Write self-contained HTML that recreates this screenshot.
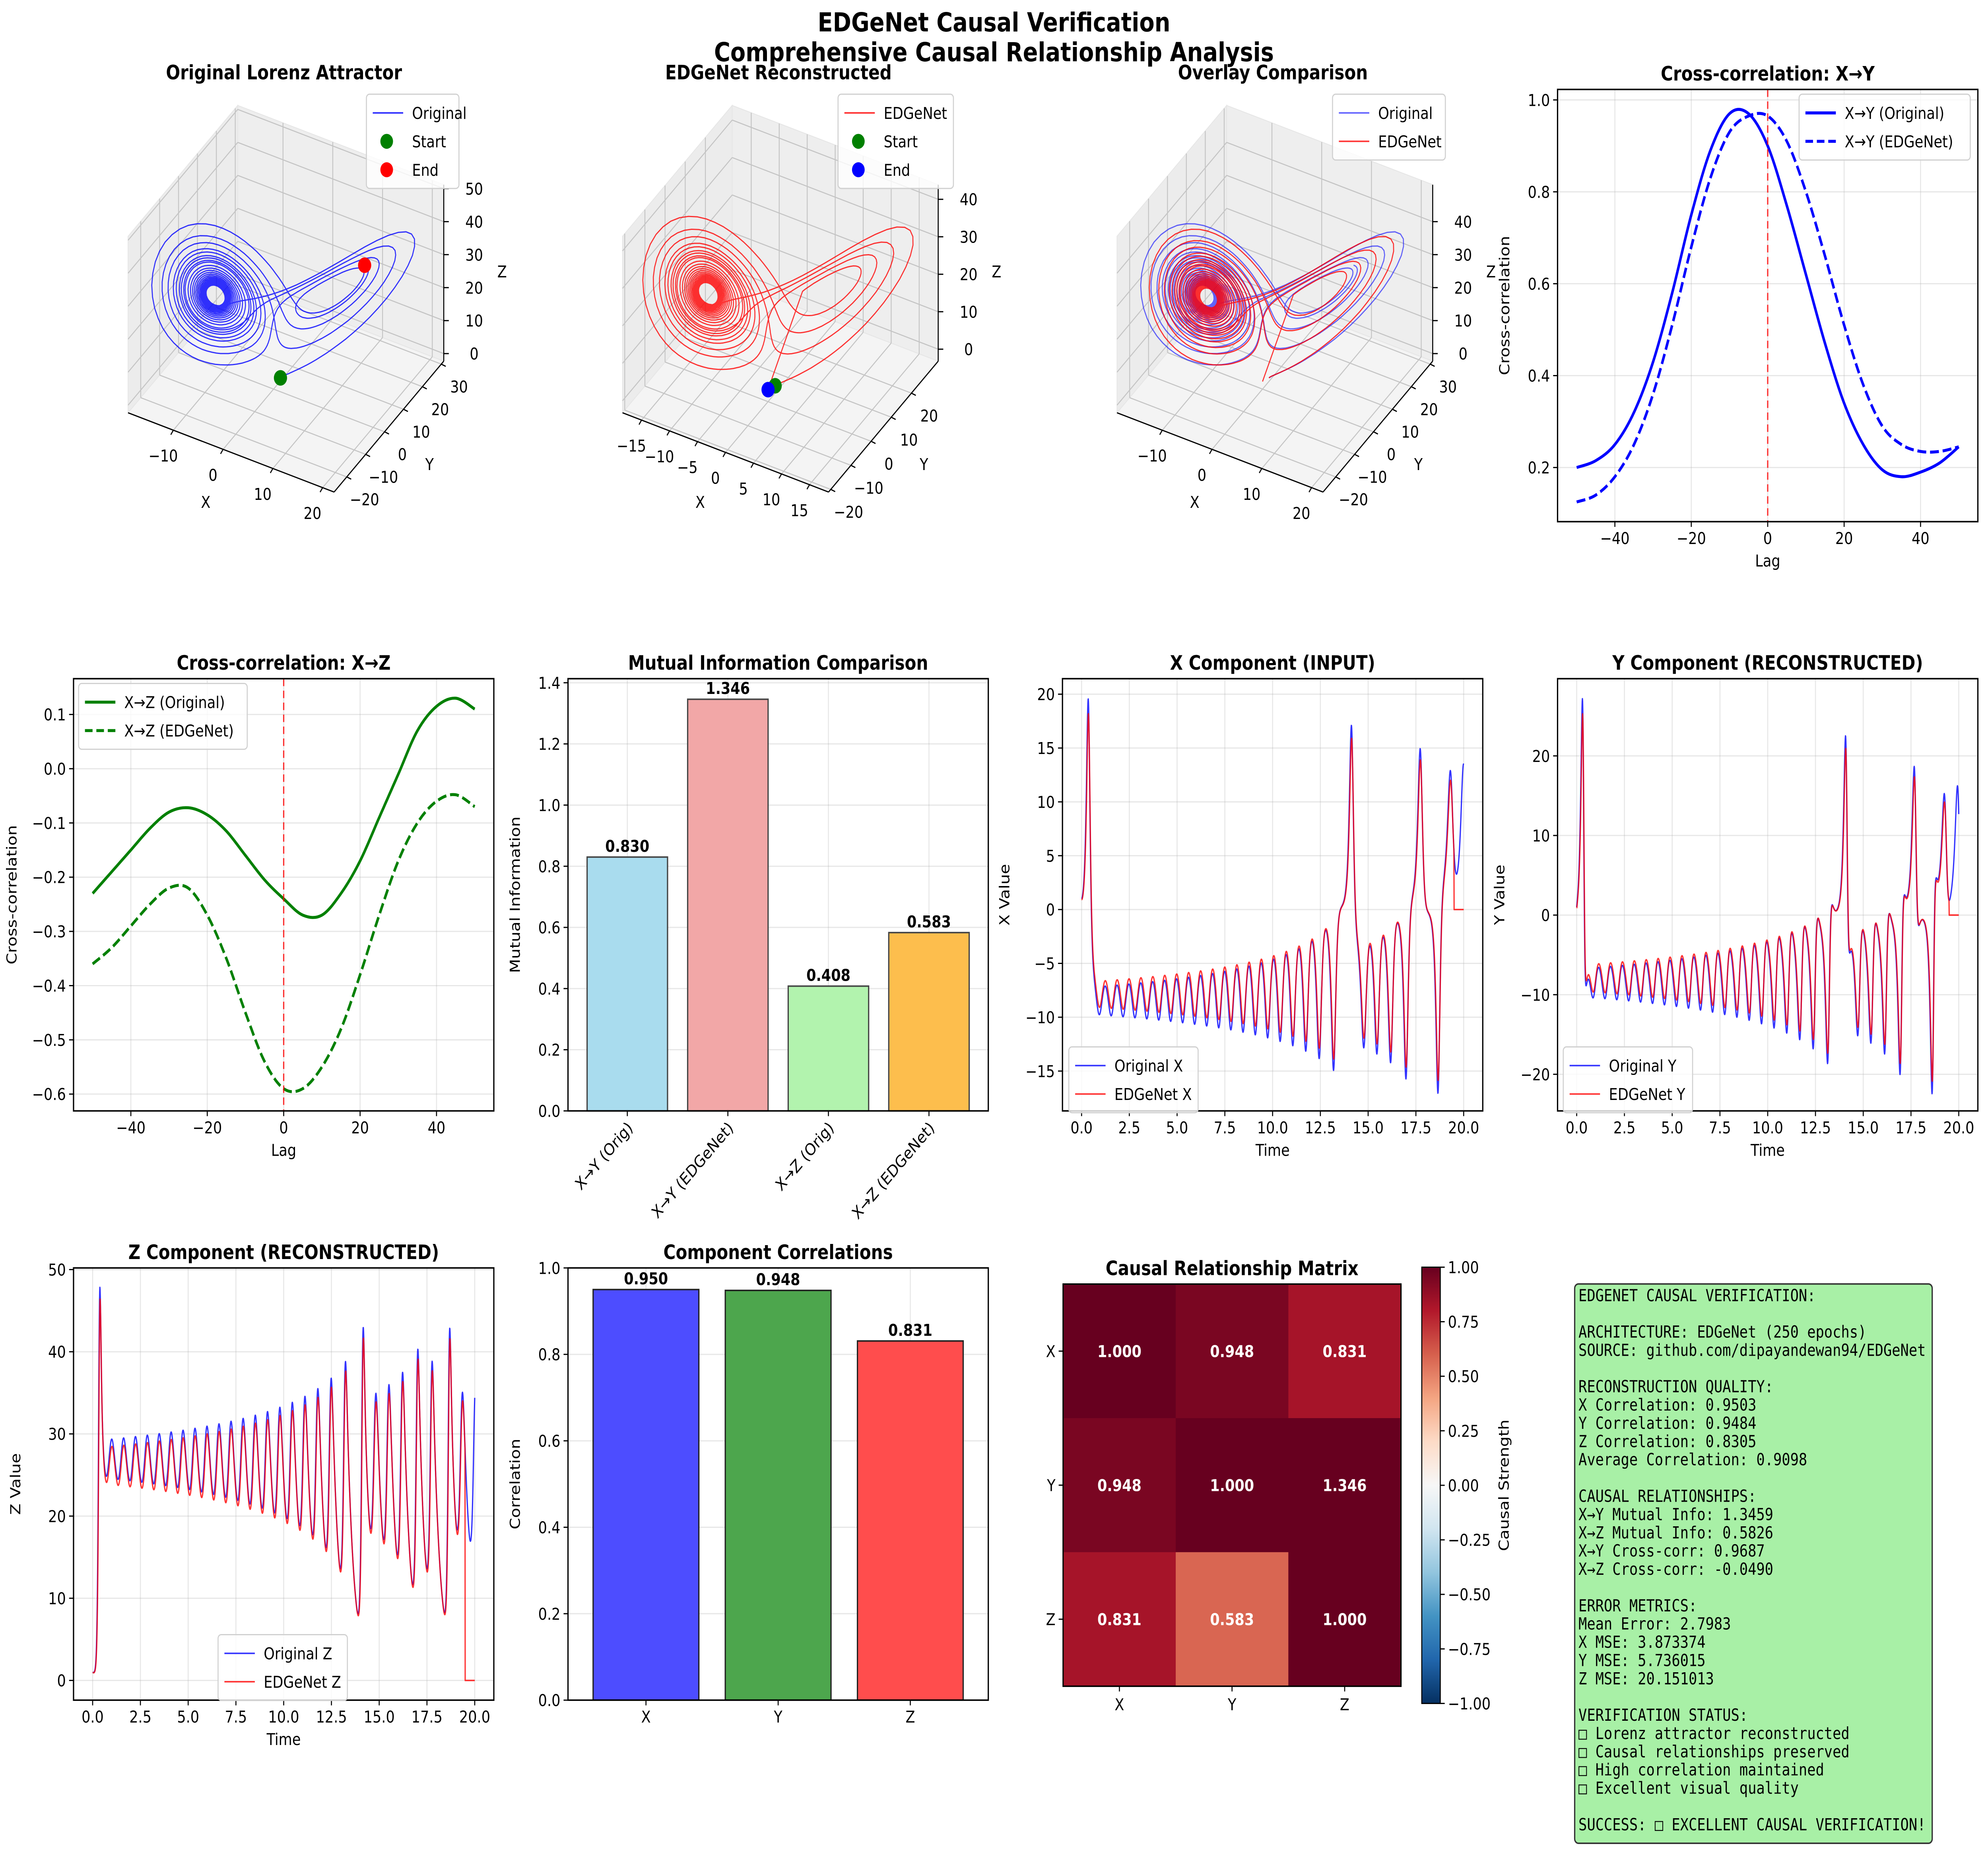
<!DOCTYPE html>
<html><head><meta charset="utf-8"><title>EDGeNet Causal Verification</title>
<style>html,body{margin:0;padding:0;background:#fff;width:100%;height:100%;overflow:hidden}#wrap{width:100vw;height:100vh}svg{display:block;width:100%;height:100%}</style>
</head><body>
<div id="wrap">
<svg id="fig" viewBox="0 0 1568 1237" preserveAspectRatio="none" xmlns="http://www.w3.org/2000/svg">
<rect x="0" y="0" width="1568" height="1237" fill="#fff"/>
</svg>
</div>
<script>
// ---------- data ----------
const lorenzInit = [1, 1, 1];
const lorenzParams = [10, 28, 8/3];
const lorenzDt = 0.01;
const lorenzSteps = 2000;
const xcorrLags = [-50,-45,-40,-35,-30,-25,-20,-15,-10,-5,0,5,10,15,20,25,30,35,40,45,50];
const xyOrig = [0.20,0.215,0.25,0.32,0.43,0.58,0.75,0.89,0.97,0.97,0.90,0.77,0.62,0.47,0.34,0.25,0.195,0.18,0.19,0.21,0.245];
const xyEdg  = [0.125,0.14,0.18,0.25,0.36,0.51,0.68,0.83,0.93,0.965,0.965,0.91,0.80,0.66,0.51,0.38,0.29,0.25,0.235,0.235,0.245];
const xzOrig = [-0.23,-0.19,-0.15,-0.11,-0.08,-0.072,-0.085,-0.115,-0.16,-0.205,-0.24,-0.27,-0.27,-0.23,-0.17,-0.09,-0.01,0.07,0.115,0.13,0.11];
const xzEdg  = [-0.36,-0.33,-0.29,-0.25,-0.22,-0.22,-0.27,-0.35,-0.45,-0.54,-0.59,-0.59,-0.55,-0.48,-0.38,-0.27,-0.17,-0.10,-0.06,-0.048,-0.07];
const miCats = ['X→Y (Orig)','X→Y (EDGeNet)','X→Z (Orig)','X→Z (EDGeNet)'];
const miVals = [0.830, 1.346, 0.408, 0.583];
const miColors = ['#a9dcee','#f2a7a7','#b2f3ae','#fdbe4d'];
const corrCats = ['X','Y','Z'];
const corrVals = [0.950, 0.948, 0.831];
const corrColors = ['#4d4dff','#4da64d','#ff4d4d'];
const matLabels = ['X','Y','Z'];
const matVals = [[1.000,0.948,0.831],[0.948,1.000,1.346],[0.831,0.583,1.000]];
const edgScale = [0.93, 0.93, 0.97];
const edgCutT = [19.5, 19.5, 19.5];

// ---------- helpers ----------
const NS='http://www.w3.org/2000/svg';
const svg=document.getElementById('fig');
const FONT='"DejaVu Sans","Liberation Sans",sans-serif';
function el(tag, attrs, name){
  const e=document.createElementNS(NS,tag);
  for(const k in attrs) e.setAttribute(k, attrs[k]);
  
  
  svg.appendChild(e); return e;
}
function T(x,y,s,name,o){
  o=o||{};
  const e=el('text',{x:x,y:y,'font-size':o.fs||11,'text-anchor':o.a||'middle','font-weight':o.b?'bold':'normal','font-family':o.f||FONT,fill:o.c||'#000'},name);
  if(o.rot!==undefined) e.setAttribute('transform','rotate('+o.rot+' '+x+' '+y+')');
  e.textContent=s; return e;
}
function L(x1,y1,x2,y2,st,w,name,extra){
  const a={x1:x1,y1:y1,x2:x2,y2:y2,stroke:st,'stroke-width':w};
  if(extra) for(const k in extra) a[k]=extra[k];
  return el('line',a,name);
}
function fmt(v){return (v<0?'−':'')+Math.abs(v).toString();}
function fmtF(v,d){return (v<0?'−':'')+Math.abs(v).toFixed(d);}
function smoothPath(p){
  let d='M'+p[0][0].toFixed(2)+','+p[0][1].toFixed(2);
  for(let i=0;i<p.length-1;i++){
    const p0=p[i-1]||p[i],p1=p[i],p2=p[i+1],p3=p[i+2]||p[i+1];
    const c1=[p1[0]+(p2[0]-p0[0])/6,p1[1]+(p2[1]-p0[1])/6];
    const c2=[p2[0]-(p3[0]-p1[0])/6,p2[1]-(p3[1]-p1[1])/6];
    d+=' C'+c1[0].toFixed(2)+','+c1[1].toFixed(2)+' '+c2[0].toFixed(2)+','+c2[1].toFixed(2)+' '+p2[0].toFixed(2)+','+p2[1].toFixed(2);
  }
  return d;
}
function axes(b,xr,yr,o){
  const sx=v=>b.x0+(v-xr[0])/(xr[1]-xr[0])*(b.x1-b.x0);
  const sy=v=>b.y1-(v-yr[0])/(yr[1]-yr[0])*(b.y1-b.y0);
  el('rect',{x:b.x0,y:b.y0,width:b.x1-b.x0,height:b.y1-b.y0,fill:'#fff'},o.id+'-plot-area');
  if(o.grid){
    (o.xt||[]).forEach(v=>L(sx(v),b.y0,sx(v),b.y1,'#b0b0b0',0.8,o.id+'-x-gridline',{'stroke-opacity':0.3}));
    o.yt.forEach(v=>L(b.x0,sy(v),b.x1,sy(v),'#b0b0b0',0.8,o.id+'-y-gridline',{'stroke-opacity':0.3}));
  }
  (o.xt||[]).forEach((v,i)=>{L(sx(v),b.y1,sx(v),b.y1+3.5,'#000',0.8,o.id+'-x-tick');
    if(o.xl) T(sx(v),b.y1+15,o.xl[i],o.id+'-x-tick-label');});
  o.yt.forEach((v,i)=>{L(b.x0-3.5,sy(v),b.x0,sy(v),'#000',0.8,o.id+'-y-tick');
    T(b.x0-6,sy(v)+4,o.yl[i],o.id+'-y-tick-label',{a:'end'});});
  T((b.x0+b.x1)/2,b.y0-6,o.title,o.id+'-title',{fs:13.2,b:true});
  if(o.xlab) T((b.x0+b.x1)/2,b.y1+30,o.xlab,o.id+'-x-axis-title');
  if(o.ylab) T(b.x0-o.yoff,(b.y0+b.y1)/2,o.ylab,o.id+'-y-axis-title',{rot:-90});
  return {sx,sy};
}
function frame(b,id){el('rect',{x:b.x0,y:b.y0,width:b.x1-b.x0,height:b.y1-b.y0,fill:'none',stroke:'#000','stroke-width':1},id+'-frame');}
function legend(x,y,w,items,id){
  const h=items.length*19+6;
  el('rect',{x:x,y:y,width:w,height:h,rx:2.5,fill:'#fff','fill-opacity':0.8,stroke:'#d0d0d0','stroke-width':0.8},id+'-legend');
  items.forEach((it,i)=>{
    const cy=y+12.5+i*19;
    if(it.t==='dot') el('circle',{cx:x+16,cy:cy,r:5,fill:it.c},id+'-legend-marker');
    else L(x+5,cy,x+29,cy,it.c,it.w||1,id+'-legend-line',it.dash?{'stroke-dasharray':'6,3','stroke-opacity':it.op||1}:{'stroke-opacity':it.op||1});
    T(x+36,cy+4,it.l,id+'-legend-entry',{a:'start'});
  });
}

// ---------- Lorenz simulation ----------
function deriv(s){const [sg,r,bt]=lorenzParams;return [sg*(s[1]-s[0]),s[0]*(r-s[2])-s[1],s[0]*s[1]-bt*s[2]];}
const LX=[],LY=[],LZ=[],LT=[];
(function(){let s=lorenzInit.slice();const h=lorenzDt;
  for(let i=0;i<=lorenzSteps;i++){LX.push(s[0]);LY.push(s[1]);LZ.push(s[2]);LT.push(i*h);
    const k1=deriv(s),k2=deriv(s.map((v,j)=>v+h/2*k1[j])),k3=deriv(s.map((v,j)=>v+h/2*k2[j])),k4=deriv(s.map((v,j)=>v+h*k3[j]));
    s=s.map((v,j)=>v+h/6*(k1[j]+2*k2[j]+2*k3[j]+k4[j]));}})();
function edg(arr,c){return arr.map((v,i)=>LT[i]>=edgCutT[c]?0:edgScale[c]*arr[Math.max(0,i-1)]);}
const EX=edg(LX,0),EY=edg(LY,1),EZ=edg(LZ,2);

// ---------- suptitle ----------
T(784,21,'EDGeNet Causal Verification','suptitle',{fs:17.5,b:true});
T(784,41,'Comprehensive Causal Relationship Analysis','subtitle',{fs:17.5,b:true});

// ---------- 3D panels ----------
function panel3d(off,xr,yr,zr,xt,yt,zt,title,id,series,marks,leg){
  const O=[101+off,276];
  const P=(u,v,w)=>[O[0]+u*162.5+v*86.5,O[1]+u*53-v*87.5-w*118];
  const U=x=>(x-xr[0])/(xr[1]-xr[0]),V=y=>(y-yr[0])/(yr[1]-yr[0]),W=z=>(z-zr[0])/(zr[1]-zr[0]);
  const poly=(pts,fill,name)=>el('polygon',{points:pts.map(p=>p.join(',')).join(' '),fill:fill,stroke:'#e6e6e6','stroke-width':0.6},name);
  poly([P(0,0,0),P(0,1,0),P(0,1,1),P(0,0,1)],'#ececec',id+'-left-pane');
  poly([P(0,1,0),P(1,1,0),P(1,1,1),P(0,1,1)],'#eeeeee',id+'-back-pane');
  poly([P(0,0,0),P(1,0,0),P(1,1,0),P(0,1,0)],'#f4f4f4',id+'-floor-pane');
  const g=(a,b,n)=>L(a[0],a[1],b[0],b[1],'#c4c4c4',0.7,n);
  xt.forEach(x=>{const u=U(x);g(P(u,0,0),P(u,1,0),id+'-grid');g(P(u,1,0),P(u,1,1),id+'-grid');});
  yt.forEach(y=>{const v=V(y);g(P(0,v,0),P(1,v,0),id+'-grid');g(P(0,v,0),P(0,v,1),id+'-grid');});
  zt.forEach(z=>{const w=W(z);g(P(0,0,w),P(0,1,w),id+'-grid');g(P(0,1,w),P(1,1,w),id+'-grid');});
  const ax=(a,b,n)=>L(a[0],a[1],b[0],b[1],'#000',0.8,n);
  ax(P(0,0,0),P(1,0,0),id+'-x-axis');ax(P(1,0,0),P(1,1,0),id+'-y-axis');ax(P(1,1,0),P(1,1,1),id+'-z-axis');
  xt.forEach(x=>{const p=P(U(x),0,0);L(p[0],p[1],p[0]-2,p[1]+3,'#000',0.8,id+'-x-tick');T(p[0]-8,p[1]+21,fmt(x),id+'-x-tick-label');});
  yt.forEach(y=>{const p=P(1,V(y),0);L(p[0],p[1],p[0]+3.5,p[1]+1.5,'#000',0.8,id+'-y-tick');T(p[0]+14,p[1]+19,fmt(y),id+'-y-tick-label');});
  zt.forEach(z=>{const p=P(1,1,W(z));L(p[0],p[1],p[0]+4,p[1],'#000',0.8,id+'-z-tick');T(p[0]+24,p[1]+4,fmt(z),id+'-z-tick-label');});
  let p=P(0.5,0,0);T(p[0]-20,p[1]+37,'X',id+'-x-axis-title');
  p=P(1,0.5,0);T(p[0]+32,p[1]+29,'Y',id+'-y-axis-title');
  p=P(1,1,0.5);T(p[0]+46,p[1]+3,'Z',id+'-z-axis-title');
  series.forEach(s=>{
    let d='';for(let i=0;i<s.x.length;i++){const q=P(U(s.x[i]),V(s.y[i]),W(s.z[i]));d+=(i?'L':'M')+q[0].toFixed(1)+','+q[1].toFixed(1);}
    el('path',{d:d,fill:'none',stroke:s.c,'stroke-width':0.8,'stroke-opacity':s.op,'stroke-linejoin':'round'},id+'-'+s.n);
  });
  marks.forEach(m=>{const q=P(U(m.x),V(m.y),W(m.z));el('circle',{cx:q[0],cy:q[1],r:5.2,fill:m.c},id+'-'+m.n);});
  T(224+off,53,title,id+'-title',{fs:13.2,b:true});
  legend(leg.x,63,leg.w,leg.items,id);
}
const N=LX.length-1;
panel3d(0,[-19.1,22.3],[-26.7,31.3],[-2.3,51.2],[-10,0,10,20],[-20,-10,0,10,20,30],[0,10,20,30,40,50],'Original Lorenz Attractor','lorenz-original',
  [{x:LX,y:LY,z:LZ,c:'#0000ff',op:0.8,n:'original-trajectory'}],
  [{x:LX[0],y:LY[0],z:LZ[0],c:'#008000',n:'start-marker'},{x:LX[N],y:LY[N],z:LZ[N],c:'#ff0000',n:'end-marker'}],
  {x:289,w:73,items:[{l:'Original',c:'#0000ff',op:0.8},{l:'Start',c:'#008000',t:'dot'},{l:'End',c:'#ff0000',t:'dot'}]});
panel3d(390,[-18.4,18.4],[-21.1,33.3],[-3.2,43.9],[-15,-10,-5,0,5,10,15],[-20,-10,0,10,20],[0,10,20,30,40],'EDGeNet Reconstructed','lorenz-edgenet',
  [{x:EX,y:EY,z:EZ,c:'#ff0000',op:0.8,n:'edgenet-trajectory'}],
  [{x:EX[0],y:EY[0],z:EZ[0],c:'#008000',n:'start-marker'},{x:EX[N],y:EY[N],z:EZ[N],c:'#0000ff',n:'end-marker'}],
  {x:661,w:91,items:[{l:'EDGeNet',c:'#ff0000',op:0.8},{l:'Start',c:'#008000',t:'dot'},{l:'End',c:'#0000ff',t:'dot'}]});
panel3d(780,[-19.1,22.3],[-26.7,31.3],[-2.3,51.2],[-10,0,10,20],[-20,-10,0,10,20,30],[0,10,20,30,40],'Overlay Comparison','lorenz-overlay',
  [{x:LX,y:LY,z:LZ,c:'#0000ff',op:0.6,n:'original-trajectory'},{x:EX,y:EY,z:EZ,c:'#ff0000',op:0.8,n:'edgenet-trajectory'}],[],
  {x:1051,w:89,items:[{l:'Original',c:'#0000ff',op:0.6},{l:'EDGeNet',c:'#ff0000',op:0.8}]});

// ---------- layout ----------
const C=[58,448,838,1228.5],W=331.5,R=[59.8,453.8,847.8],H=289;
const box=(c,r)=>({x0:C[c],x1:C[c]+W,y0:R[r],y1:R[r]+H});

// Cross-correlation X→Y
(function(){const b=box(3,0);const xt=[-40,-20,0,20,40],yt=[0.2,0.4,0.6,0.8,1.0];
  const a=axes(b,[-55,55],[0.0822,1.0228],{id:'xcorr-xy',grid:true,xt:xt,xl:xt.map(fmt),yt:yt,yl:yt.map(v=>v.toFixed(1)),title:'Cross-correlation: X→Y',xlab:'Lag',ylab:'Cross-correlation',yoff:38});
  el('path',{d:smoothPath(xcorrLags.map((l,i)=>[a.sx(l),a.sy(xyOrig[i])])),fill:'none',stroke:'#0000ff','stroke-width':2},'xy-original-line');
  el('path',{d:smoothPath(xcorrLags.map((l,i)=>[a.sx(l),a.sy(xyEdg[i])])),fill:'none',stroke:'#0000ff','stroke-width':2,'stroke-dasharray':'7,3'},'xy-edgenet-line');
  L(a.sx(0),b.y0,a.sx(0),b.y1,'#ff0000',1,'zero-lag-line',{'stroke-dasharray':'5,3','stroke-opacity':0.8});
  frame(b,'xcorr-xy');
  legend(1419,63,135,[{l:'X→Y (Original)',c:'#0000ff',w:2},{l:'X→Y (EDGeNet)',c:'#0000ff',w:2,dash:true}],'xcorr-xy');})();

// Cross-correlation X→Z
(function(){const b=box(0,1);const xt=[-40,-20,0,20,40],yt=[-0.6,-0.5,-0.4,-0.3,-0.2,-0.1,0.0,0.1];
  const a=axes(b,[-55,55],[-0.631,0.166],{id:'xcorr-xz',grid:true,xt:xt,xl:xt.map(fmt),yt:yt,yl:yt.map(v=>fmtF(Math.abs(v)<1e-9?0:v,1)),title:'Cross-correlation: X→Z',xlab:'Lag',ylab:'Cross-correlation',yoff:45});
  el('path',{d:smoothPath(xcorrLags.map((l,i)=>[a.sx(l),a.sy(xzOrig[i])])),fill:'none',stroke:'#008000','stroke-width':2},'xz-original-line');
  el('path',{d:smoothPath(xcorrLags.map((l,i)=>[a.sx(l),a.sy(xzEdg[i])])),fill:'none',stroke:'#008000','stroke-width':2,'stroke-dasharray':'7,3'},'xz-edgenet-line');
  L(a.sx(0),b.y0,a.sx(0),b.y1,'#ff0000',1,'zero-lag-line',{'stroke-dasharray':'5,3','stroke-opacity':0.8});
  frame(b,'xcorr-xz');
  legend(62,457,133,[{l:'X→Z (Original)',c:'#008000',w:2},{l:'X→Z (EDGeNet)',c:'#008000',w:2,dash:true}],'xcorr-xz');})();

// Mutual information
(function(){const b=box(1,1);const yt=[0,0.2,0.4,0.6,0.8,1.0,1.2,1.4];const xt=miCats.map((c,i)=>i);
  const a=axes(b,[-0.59,3.59],[0,1.4133],{id:'mutual-info',grid:true,xt:xt,yt:yt,yl:yt.map(v=>v.toFixed(1)),title:'Mutual Information Comparison',ylab:'Mutual Information',yoff:38});
  miVals.forEach((v,i)=>{const x0=a.sx(i-0.4),x1=a.sx(i+0.4);
    el('rect',{x:x0,y:a.sy(v),width:x1-x0,height:a.sy(0)-a.sy(v),fill:miColors[i],stroke:'#444','stroke-width':1},'mi-bar-'+i);
    T(a.sx(i),a.sy(v)-3.5,v.toFixed(3),'mi-bar-value',{b:true});
    T(a.sx(i)+5,b.y1+12,miCats[i],'mi-x-tick-label',{a:'end',rot:-45});});
  frame(b,'mutual-info');})();

// Time series
function tsPanel(c,r,id,title,yr,yt,orig,ed,ylab,lname,lx,ly){
  const b=box(c,r);const xt=[0,2.5,5,7.5,10,12.5,15,17.5,20];
  const a=axes(b,[-1,21],yr,{id:id,grid:true,xt:xt,xl:xt.map(v=>v.toFixed(1)),yt:yt,yl:yt.map(fmt),title:title,xlab:'Time',ylab:ylab,yoff:42});
  const line=(arr,col,n)=>{let d='';arr.forEach((v,i)=>{d+=(i?'L':'M')+a.sx(LT[i]).toFixed(2)+','+a.sy(v).toFixed(2);});
    el('path',{d:d,fill:'none',stroke:col,'stroke-width':1,'stroke-opacity':0.8,'stroke-linejoin':'round'},n);};
  line(orig,'#0000ff',id+'-original-line');line(ed,'#ff0000',id+'-edgenet-line');
  frame(b,id);
  legend(lx,ly,lname[2],[{l:lname[0],c:'#0000ff',op:0.8},{l:lname[1],c:'#ff0000',op:0.8}],id);
}
tsPanel(2,1,'x-component','X Component (INPUT)',[-18.7,21.44],[-15,-10,-5,0,5,10,15,20],LX,EX,'X Value',['Original X','EDGeNet X',102],843,700);
tsPanel(3,1,'y-component','Y Component (RECONSTRUCTED)',[-24.6,29.7],[-20,-10,0,10,20],LY,EY,'Y Value',['Original Y','EDGeNet Y',102],1233,700);
tsPanel(0,2,'z-component','Z Component (RECONSTRUCTED)',[-2.4,50.2],[0,10,20,30,40,50],LZ,EZ,'Z Value',['Original Z','EDGeNet Z',102],172,1093);

// Component correlations
(function(){const b=box(1,2);const yt=[0,0.2,0.4,0.6,0.8,1.0];const xt=corrCats.map((c,i)=>i);
  const a=axes(b,[-0.59,2.59],[0,1.0],{id:'component-corr',grid:true,xt:xt,xl:corrCats,yt:yt,yl:yt.map(v=>v.toFixed(1)),title:'Component Correlations',ylab:'Correlation',yoff:38});
  corrVals.forEach((v,i)=>{const x0=a.sx(i-0.4),x1=a.sx(i+0.4);
    el('rect',{x:x0,y:a.sy(v),width:x1-x0,height:a.sy(0)-a.sy(v),fill:corrColors[i],stroke:'#222','stroke-width':1},'corr-bar-'+corrCats[i]);
    T(a.sx(i),a.sy(v)-3.5,v.toFixed(3),'corr-bar-value',{b:true});});
  frame(b,'component-corr');})();

// Causal matrix heatmap
const rdbuStops=['#053061','#2166ac','#4393c3','#92c5de','#d1e5f0','#f7f7f7','#fddbc7','#f4a582','#d6604d','#b2182b','#67001f'];
function cmap(v){v=Math.max(-1,Math.min(1,v));const t=(v+1)/2*10;const i=Math.min(9,Math.floor(t)),f=t-i;
  const h=s=>[1,3,5].map(k=>parseInt(s.substr(k,2),16));const A=h(rdbuStops[i]),B=h(rdbuStops[i+1]);
  return 'rgb('+A.map((q,k)=>Math.round(q+(B[k]-q)*f)).join(',')+')';}
(function(){const b={x0:838.5,x1:1105,y0:858.6,y1:1127.5};const cw=(b.x1-b.x0)/3,ch=(b.y1-b.y0)/3;
  T((b.x0+b.x1)/2,b.y0-6,'Causal Relationship Matrix','causal-matrix-title',{fs:13.2,b:true});
  matVals.forEach((row,r)=>row.forEach((v,c)=>{
    el('rect',{x:b.x0+c*cw,y:b.y0+r*ch,width:cw+0.3,height:ch+0.3,fill:cmap(v)},'matrix-cell-'+matLabels[r]+matLabels[c]);
    T(b.x0+(c+0.5)*cw,b.y0+(r+0.5)*ch+4,v.toFixed(3),'matrix-cell-value',{b:true,c:'#fff'});}));
  matLabels.forEach((l,i)=>{const x=b.x0+(i+0.5)*cw,y=b.y0+(i+0.5)*ch;
    L(x,b.y1,x,b.y1+3.5,'#000',0.8,'matrix-x-tick');T(x,b.y1+16,l,'matrix-x-tick-label');
    L(b.x0-3.5,y,b.x0,y,'#000',0.8,'matrix-y-tick');T(b.x0-6,y+4,l,'matrix-y-tick-label',{a:'end'});});
  frame(b,'causal-matrix');
  const cb={x0:1121.4,x1:1136,y0:847.3,y1:1139};
  const gd=el('defs',{},'colorbar-defs');
  const lg=document.createElementNS(NS,'linearGradient');lg.setAttribute('id','cbgrad');lg.setAttribute('x1','0');lg.setAttribute('y1','1');lg.setAttribute('x2','0');lg.setAttribute('y2','0');
  rdbuStops.forEach((s,i)=>{const st=document.createElementNS(NS,'stop');st.setAttribute('offset',(i/10).toString());st.setAttribute('stop-color',s);lg.appendChild(st);});
  gd.appendChild(lg);
  el('rect',{x:cb.x0,y:cb.y0,width:cb.x1-cb.x0,height:cb.y1-cb.y0,fill:'url(#cbgrad)',stroke:'#000','stroke-width':0.8},'colorbar');
  const cbt=[-1,-0.75,-0.5,-0.25,0,0.25,0.5,0.75,1];
  cbt.forEach(v=>{const y=cb.y1-(v+1)/2*(cb.y1-cb.y0);L(cb.x1,y,cb.x1+3.5,y,'#000',0.8,'colorbar-tick');T(cb.x1+6,y+4,fmtF(v,2),'colorbar-tick-label',{a:'start'});});
  T(1190,(cb.y0+cb.y1)/2,'Causal Strength','colorbar-title',{rot:-90});
})();

// Summary text box
const summaryLines=['EDGENET CAUSAL VERIFICATION:','','ARCHITECTURE: EDGeNet (250 epochs)','SOURCE: github.com/dipayandewan94/EDGeNet','','RECONSTRUCTION QUALITY:','X Correlation: 0.9503','Y Correlation: 0.9484','Z Correlation: 0.8305','Average Correlation: 0.9098','','CAUSAL RELATIONSHIPS:','X→Y Mutual Info: 1.3459','X→Z Mutual Info: 0.5826','X→Y Cross-corr: 0.9687','X→Z Cross-corr: -0.0490','','ERROR METRICS:','Mean Error: 2.7983','X MSE: 3.873374','Y MSE: 5.736015','Z MSE: 20.151013','','VERIFICATION STATUS:','□ Lorenz attractor reconstructed','□ Causal relationships preserved','□ High correlation maintained','□ Excellent visual quality','','SUCCESS: □ EXCELLENT CAUSAL VERIFICATION!'];
el('rect',{x:1242,y:858.5,width:282,height:374,rx:3,fill:'#a8f0a6',stroke:'#333','stroke-width':1},'summary-box');
summaryLines.forEach((s,i)=>{if(s) T(1245,870+i*12.2,s,'summary-line',{a:'start',fs:11.1,f:'"DejaVu Sans Mono","Liberation Mono",monospace'});});
</script>
</body></html>
